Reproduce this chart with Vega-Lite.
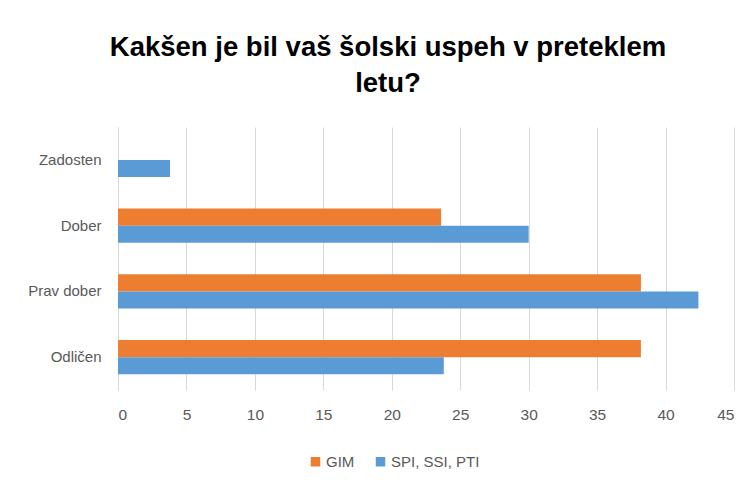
{
  "$schema": "https://vega.github.io/schema/vega-lite/v6.json",
  "autosize": {"type": "none"},
  "padding": {"left": 118, "top": 127, "right": 17, "bottom": 102},
  "width": 616,
  "height": 263,
  "background": "white",
  "title": {
    "text": ["Kakšen je bil vaš šolski uspeh v preteklem", "letu?"],
    "font": "Liberation Sans Narrow, Liberation Sans, Arial",
    "fontSize": 27.5,
    "fontWeight": "bold",
    "color": "#000000",
    "anchor": "middle",
    "frame": "group",
    "dx": -38,
    "lineHeight": 36,
    "offset": 30
  },
  "data": {
    "values": [
      {"kategorija": "Zadosten", "skupina": "GIM", "odstotek": 0},
      {"kategorija": "Zadosten", "skupina": "SPI, SSI, PTI", "odstotek": 3.8},
      {"kategorija": "Dober", "skupina": "GIM", "odstotek": 23.6},
      {"kategorija": "Dober", "skupina": "SPI, SSI, PTI", "odstotek": 30.0},
      {"kategorija": "Prav dober", "skupina": "GIM", "odstotek": 38.2},
      {"kategorija": "Prav dober", "skupina": "SPI, SSI, PTI", "odstotek": 42.4},
      {"kategorija": "Odličen", "skupina": "GIM", "odstotek": 38.2},
      {"kategorija": "Odličen", "skupina": "SPI, SSI, PTI", "odstotek": 23.8}
    ]
  },
  "mark": {"type": "bar"},
  "encoding": {
    "y": {
      "field": "kategorija",
      "type": "nominal",
      "sort": ["Zadosten", "Dober", "Prav dober", "Odličen"],
      "scale": {"paddingInner": 0.48, "paddingOuter": 0.24},
      "axis": {
        "title": null,
        "ticks": false,
        "domain": true,
        "domainColor": "#d9d9d9",
        "labelFont": "Liberation Sans Narrow, Liberation Sans",
        "labelFontSize": 15,
        "labelColor": "#595959",
        "labelPadding": 17
      }
    },
    "yOffset": {
      "field": "skupina",
      "type": "nominal",
      "sort": ["GIM", "SPI, SSI, PTI"]
    },
    "x": {
      "field": "odstotek",
      "type": "quantitative",
      "scale": {"domain": [0, 45], "nice": false},
      "axis": {
        "title": null,
        "values": [0, 5, 10, 15, 20, 25, 30, 35, 40, 45],
        "ticks": false,
        "domain": false,
        "grid": true,
        "gridColor": "#d9d9d9",
        "gridWidth": 1,
        "labelFont": "Liberation Sans Narrow, Liberation Sans",
        "labelFontSize": 15.5,
        "labelColor": "#595959",
        "labelPadding": 17
      }
    },
    "color": {
      "field": "skupina",
      "type": "nominal",
      "scale": {"domain": ["GIM", "SPI, SSI, PTI"], "range": ["#ED7D31", "#5B9BD5"]},
      "legend": {
        "title": null,
        "orient": "none",
        "direction": "horizontal",
        "legendX": 190,
        "legendY": 327,
        "symbolType": "square",
        "symbolSize": 90,
        "symbolStrokeWidth": 0,
        "labelFont": "Liberation Sans Narrow, Liberation Sans",
        "labelFontSize": 15,
        "labelColor": "#595959",
        "columnPadding": 18,
        "labelOffset": 3
      }
    }
  },
  "config": {
    "view": {"stroke": null}
  }
}
